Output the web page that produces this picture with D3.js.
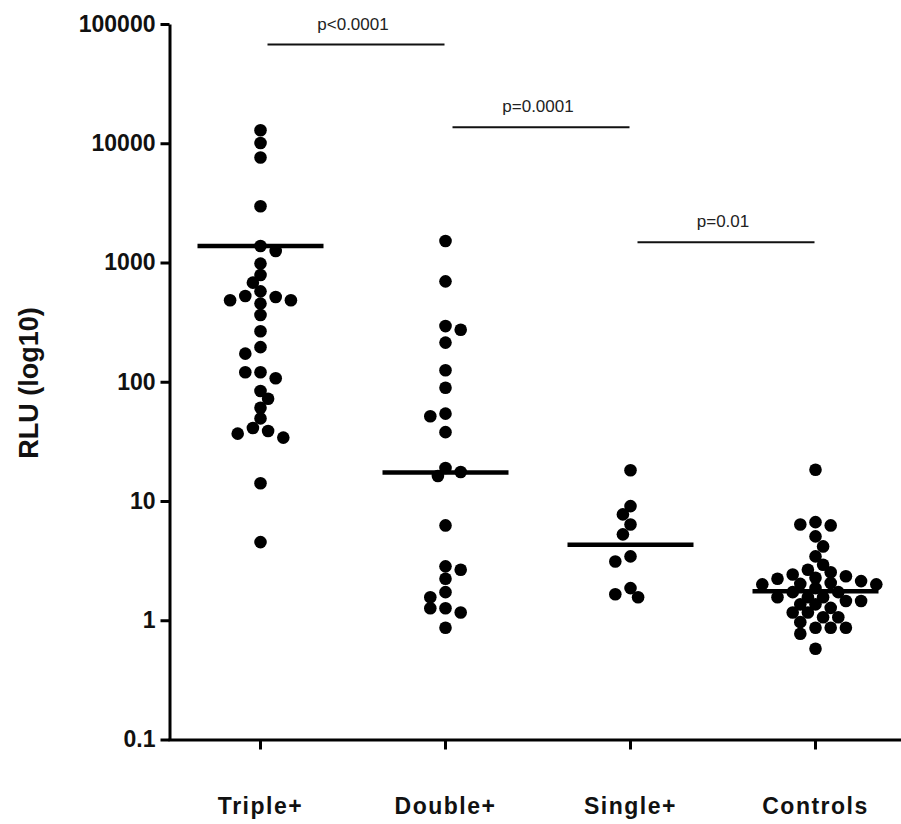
<!DOCTYPE html>
<html>
<head>
<meta charset="utf-8">
<script src="https://cdn.jsdelivr.net/npm/d3@7/dist/d3.min.js"></script>
<style>
  body { margin: 0; background: #fff; }
  svg { display: block; font-family: "Liberation Sans", Arial, sans-serif; }
</style>
</head>
<body>
<div id="chart"></div>
<script>
// groups on the x axis
const groups = ["Triple+", "Double+", "Single+", "Controls"];

// RLU per subject
const triple = [12850, 10040, 7590, 2962, 1375, 1250, 979, 785, 678, 573, 482, 482, 524, 514,
  452, 363, 265, 195, 172, 120, 120, 107, 83.6, 72, 60.6, 49.3, 38.6, 40.9, 34, 36.7, 14.1, 4.52];
const double = [1514, 695, 293, 273, 213, 125, 89, 54, 51.3, 37.8, 17.5, 16.2, 18.9, 6.24,
  2.83, 2.65, 2.23, 1.72, 1.56, 1.26, 1.26, 1.16, 0.865];
const single = [18.1, 9.06, 7.72, 6.36, 5.25, 3.43, 3.11, 1.86, 1.56, 1.65];
const controls = [18.3, 6.36, 6.24, 6.65, 5.05, 4.16, 3.43, 2.92, 2.65, 2.42, 2.53, 2.27, 2.13,
  2.02, 2.0, 2.34, 2.23, 2.05, 2.0, 1.86, 1.72, 1.72, 1.56, 1.45, 1.36, 1.27, 1.36, 1.45, 1.56,
  1.56, 1.16, 1.06, 0.964, 0.865, 0.865, 0.77, 0.865, 1.06, 1.16, 0.577];

// median bars
const medians = [1375, 17.3, 4.3, 1.75];

// y tick values
const yTicks = [0.1, 1, 10, 100, 1000, 10000, 100000];

// pairwise comparisons (bar height in RLU)
const compFrom = ["Triple+", "Double+", "Single+"];
const compTo = ["Double+", "Single+", "Controls"];
const compLabel = ["p<0.0001", "p=0.0001", "p=0.01"];
const compLevel = [67300, 13600, 1477];

const seriesByGroup = [triple, double, single, controls];

const width = 901, height = 824;
const svg = d3.select("#chart").append("svg")
  .attr("width", width)
  .attr("height", height)
  .attr("viewBox", `0 0 ${width} ${height}`);

svg.append("rect").attr("width", width).attr("height", height).attr("fill", "#fff");

const x = d3.scaleBand().domain(groups).range([168, 908]).padding(0);
const cx = g => x(g) + x.bandwidth() / 2;
const y = d3.scaleLog().domain([0.1, 100000]).range([739.5, 24]);

// y axis
const yAxis = svg.append("g")
  .attr("transform", "translate(169.5,0)")
  .call(d3.axisLeft(y).tickValues(yTicks).tickSize(9).tickSizeOuter(0).tickPadding(5)
    .tickFormat(d => d < 1 ? d3.format(".1f")(d) : d3.format("d")(d)));
yAxis.select(".domain").attr("stroke", "#000").attr("stroke-width", 3);
yAxis.selectAll(".tick line").attr("stroke", "#000").attr("stroke-width", 3);
yAxis.selectAll(".tick text")
  .attr("fill", "#111").attr("font-size", 23).attr("font-weight", "bold");

// x axis
const xAxis = svg.append("g")
  .attr("transform", "translate(0,739.5)")
  .call(d3.axisBottom(x).tickSize(10).tickSizeOuter(0).tickPadding(48));
xAxis.select(".domain").attr("stroke", "#000").attr("stroke-width", 3);
xAxis.selectAll(".tick line").attr("stroke", "#000").attr("stroke-width", 3);
xAxis.selectAll(".tick text")
  .attr("fill", "#111").attr("font-size", 23).attr("font-weight", "bold")
  .attr("letter-spacing", 1.5);

// y title
svg.append("text")
  .attr("transform", "translate(38,383) rotate(-90)")
  .attr("text-anchor", "middle")
  .attr("font-size", 27).attr("font-weight", "bold").attr("fill", "#111")
  .text("RLU (log10)");

// beeswarm layout: greedy placement nearest the column centre
const r = 6.3;
const step = 7.6;
const minD = 10.2;
function swarm(values) {
  const pts = values.map(v => ({ v, y: y(v) })).sort((a, b) => a.y - b.y);
  const placed = [];
  pts.forEach((p, i) => {
    for (let k = 0; k < 40; k++) {
      const sign = (placed.length % 2) ? 1 : -1;
      const offs = k === 0 ? [0] : [sign * k * step, -sign * k * step];
      const ok = offs.find(o => placed.every(q =>
        (q.dx - o) ** 2 + (q.y - p.y) ** 2 >= minD * minD));
      if (ok !== undefined) { p.dx = ok; break; }
    }
    placed.push(p);
  });
  return pts;
}

const dots = svg.append("g");
groups.forEach((g, i) => {
  dots.selectAll(null)
    .data(swarm(seriesByGroup[i]))
    .join("circle")
    .attr("cx", d => cx(g) + d.dx)
    .attr("cy", d => d.y)
    .attr("r", r)
    .attr("fill", "#000");
});

// median lines
svg.append("g").selectAll("line")
  .data(groups)
  .join("line")
  .attr("x1", (g) => cx(g) - 63)
  .attr("x2", (g) => cx(g) + 63)
  .attr("y1", (g, i) => y(medians[i]))
  .attr("y2", (g, i) => y(medians[i]))
  .attr("stroke", "#000")
  .attr("stroke-width", 4.5);

// comparison bars
const comp = svg.append("g");
compLabel.forEach((lab, i) => {
  const x1 = cx(compFrom[i]) + 7, x2 = cx(compTo[i]) - 1;
  const yy = y(compLevel[i]);
  comp.append("line")
    .attr("x1", x1).attr("x2", x2).attr("y1", yy).attr("y2", yy)
    .attr("stroke", "#111").attr("stroke-width", 2);
  comp.append("text")
    .attr("x", (x1 + x2) / 2 - 3)
    .attr("y", yy - 15)
    .attr("text-anchor", "middle")
    .attr("font-size", 17)
    .attr("fill", "#222")
    .text(lab);
});
</script>
</body>
</html>
